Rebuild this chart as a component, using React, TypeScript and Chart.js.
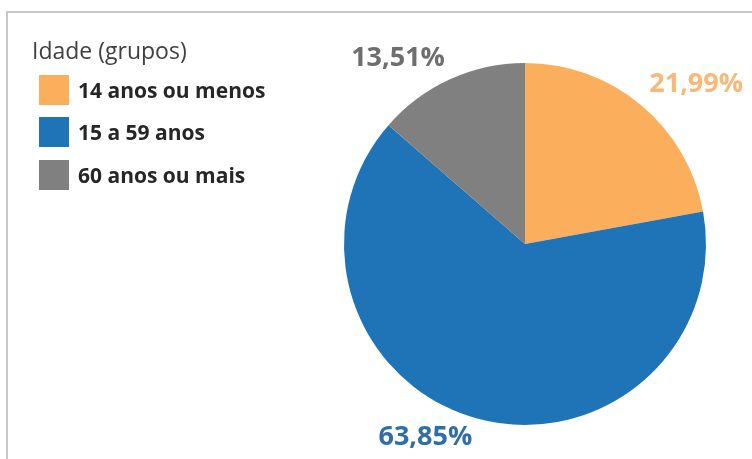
import React, { useEffect, useRef } from "react";
import { Chart, registerables } from "chart.js";

Chart.register(...registerables);

const legendTitle = "Idade (grupos)";
const categories = ["14 anos ou menos", "15 a 59 anos", "60 anos ou mais"];
const values = [21.99, 63.85, 13.51];
const valueLabels = ["21,99%", "63,85%", "13,51%"];
const colors = ["#FBAF5D", "#1F74B8", "#808080"];
const labelColors = ["#F8B878", "#2F6EA8", "#6E6E6E"];
// label placement relative to slice (angle offset in degrees, distance from center in px)
const labelAngleOffset = [6.9, 12.1, -9.7];
const labelDistance = [235, 216, 226];

const FONT = "'Open Sans', Lato, sans-serif";

const overlayPlugin = {
  id: "overlay",
  afterDraw(chart: any) {
    const ctx = chart.ctx as CanvasRenderingContext2D;
    ctx.save();
    // border (top and left)
    ctx.strokeStyle = "#C8C8C8";
    ctx.lineWidth = 2;
    ctx.beginPath();
    ctx.moveTo(7, 459);
    ctx.lineTo(7, 12);
    ctx.lineTo(752, 12);
    ctx.stroke();

    // legend
    ctx.textBaseline = "alphabetic";
    ctx.textAlign = "left";
    ctx.fillStyle = "#404040";
    ctx.font = `23px ${FONT}`;
    ctx.fillText(legendTitle, 32, 59);
    const rowY = [90, 132, 175];
    categories.forEach((c, i) => {
      ctx.fillStyle = colors[i];
      ctx.fillRect(39, rowY[i] - 15, 30, 30);
      ctx.fillStyle = "#262626";
      ctx.font = `bold 21px ${FONT}`;
      ctx.fillText(c, 78, rowY[i] + 8);
    });

    // data labels
    const meta = chart.getDatasetMeta(0);
    meta.data.forEach((arc: any, i: number) => {
      const p = arc.getProps(["x", "y", "startAngle", "endAngle"], true);
      const mid = (p.startAngle + p.endAngle) / 2 + (labelAngleOffset[i] * Math.PI) / 180;
      const x = p.x + Math.cos(mid) * labelDistance[i];
      const y = p.y + Math.sin(mid) * labelDistance[i];
      ctx.fillStyle = labelColors[i];
      ctx.font = `bold 27px ${FONT}`;
      ctx.textAlign = "center";
      ctx.textBaseline = "alphabetic";
      ctx.fillText(valueLabels[i], x, y + 9);
    });
    ctx.restore();
  },
};

export default function App() {
  const ref = useRef<HTMLCanvasElement | null>(null);
  useEffect(() => {
    if (!ref.current) return;
    const chart = new Chart(ref.current, {
      type: "pie",
      data: {
        labels: categories,
        datasets: [
          {
            data: values,
            backgroundColor: colors,
            borderWidth: 0,
          },
        ],
      },
      options: {
        animation: false,
        responsive: false,
        maintainAspectRatio: false,
        devicePixelRatio: 1,
        layout: { padding: { left: 343, right: 45, top: 63, bottom: 34 } },
        plugins: {
          legend: { display: false },
          tooltip: { enabled: false },
        },
      },
      plugins: [overlayPlugin],
    });
    return () => chart.destroy();
  }, []);
  return (
    <div style={{ position: "fixed", left: 0, top: 0, width: 752, height: 459, background: "#fff" }}>
      <canvas ref={ref} width={752} height={459} style={{ width: 752, height: 459, display: "block" }} />
    </div>
  );
}
